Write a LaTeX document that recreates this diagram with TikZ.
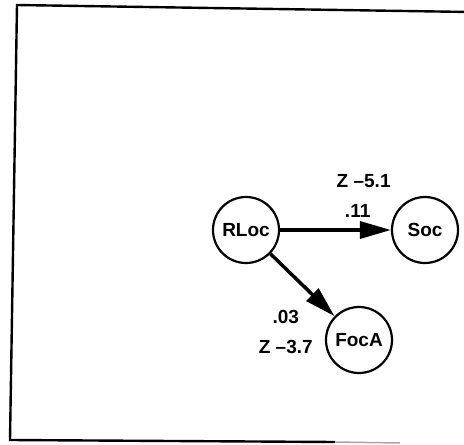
\documentclass[tikz,border=0pt]{standalone}
\usepackage{fontspec}
\setmainfont{Liberation Sans}
\usetikzlibrary{positioning,arrows.meta}

\begin{document}
\begin{tikzpicture}[
    x=1pt, y=-1pt,
    var node/.style={circle, draw, line width=2.2pt, minimum size=66pt, inner sep=0pt, font=\fontsize{19}{21}\selectfont\bfseries},
    weight note/.style={font=\fontsize{19}{21}\selectfont\bfseries, inner sep=1pt},
    path arrow/.style={line width=3.5pt, -{Triangle[length=31pt, width=17pt]}}
]
  \useasboundingbox (0,0) rectangle (464,445);
  % frame, scanned slightly askew
  \draw[line width=2.4pt] (470,12) -- (17,5) -- (10,440) -- (335,442);
  \draw[line width=1.5pt, black!35] (335,442) -- (400,443);

  \node[var node] (rloc) at (246,230) {RLoc};
  \node[var node, on grid] (soc) [right=179pt of rloc] {Soc};
  \node[var node, on grid] (foca) [below right=110pt and 113pt of rloc] {FocA};

  \draw[path arrow] (rloc) -- node[weight note, pos=0.7, above=10pt] (w11) {.11} (soc);
  \node[weight note, xshift=6pt] (z51) [above=13pt of w11] {Z --5.1};

  \draw[path arrow] (rloc) -- (foca);
  \node[weight note, yshift=-7pt] (z37) [left=11pt of foca] {Z --3.7};
  \node[weight note] (w03) [above=14pt of z37] {.03};
\end{tikzpicture}
\end{document}
